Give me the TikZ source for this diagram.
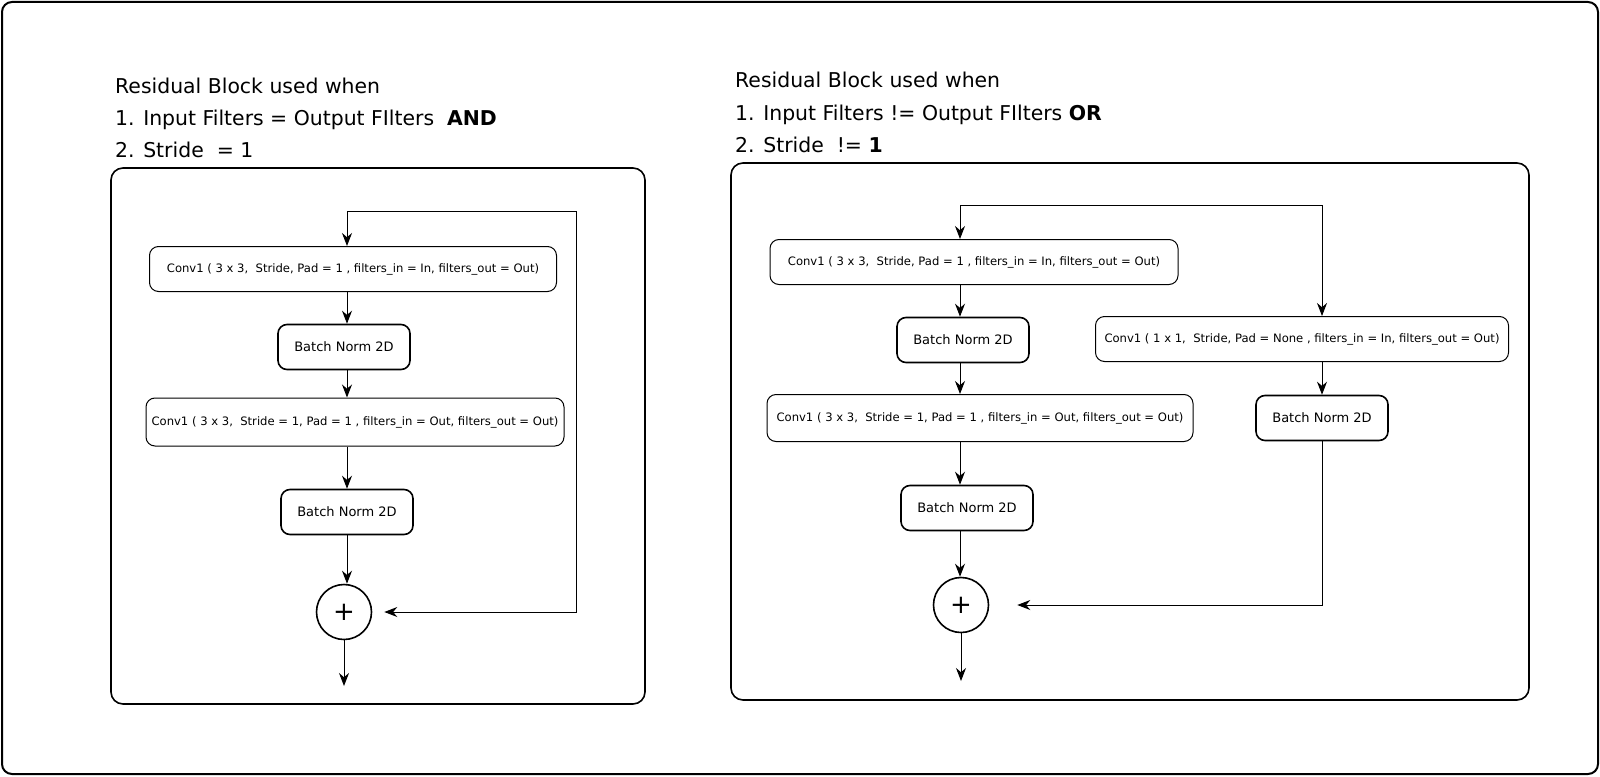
\documentclass[tikz,border=0pt]{standalone}
\usepackage{fontspec}
\setmainfont{DejaVu Sans}
\usetikzlibrary{shapes.geometric, arrows.meta}
\tikzstyle{frame} = [rectangle, rounded corners=12pt, line width=1.6pt, draw=black]
\tikzstyle{title} = [anchor=base west, inner sep=0pt, font=\fontsize{20.4}{24}\selectfont]
\tikzstyle{conv} = [rectangle, rounded corners=9pt, line width=1pt, draw=black, text centered, inner sep=2pt, minimum height=45pt, font=\fontsize{11.6}{13}\selectfont]
\tikzstyle{bnorm} = [rectangle, rounded corners=9pt, line width=1.6pt, draw=black, text centered, minimum width=132pt, minimum height=45pt, font=\fontsize{13}{15}\selectfont]
\tikzstyle{adder} = [circle, line width=1.6pt, draw=black, minimum size=55pt, inner sep=0pt, font=\fontsize{26}{26}\selectfont]
\tikzstyle{arrow} = [line width=1pt, -{Stealth[length=13pt,width=10pt]}]

\begin{document}
\begin{tikzpicture}[x=1pt, y=-1pt]
        \useasboundingbox (0,0) rectangle (1600,776);
        \draw[rounded corners=10pt, line width=2pt] (2,2) rectangle (1598,774);
        % left block
        \node (tL1) [title] at (115,93) {Residual Block used when};
        \node (tL2) [title] at (115,125.5) {1. Input Filters = Output FIlters \ \textbf{AND}};
        \node (tL3) [title] at (115,157) {2. Stride \ = 1};
        \draw [frame] (111,168) rectangle (645,704);
        \node (c1L) [conv, minimum width=407pt] at (353,269) {Conv1 ( 3 x 3, \ Stride, Pad = 1 , filters\_in = In, filters\_out = Out)};
        \node (bn1L) [bnorm] at (344,347) {Batch Norm 2D};
        \node (c2L) [conv, minimum width=418pt, minimum height=48pt] at (355,422) {Conv1 ( 3 x 3, \ Stride = 1, Pad = 1 , filters\_in = Out, filters\_out = Out)};
        \node (bn2L) [bnorm] at (347,512) {Batch Norm 2D};
        \node (addL) [adder] at (344,612) {+};
        \coordinate (forkL) at (347,211);
        \coordinate (outL) at (344,686);
        \draw [arrow] (forkL) -- (forkL |- c1L.north);
        \draw [arrow] (forkL |- c1L.south) -- (forkL |- bn1L.north);
        \draw [arrow] (forkL |- bn1L.south) -- (forkL |- c2L.north);
        \draw [arrow] (forkL |- c2L.south) -- (forkL |- bn2L.north);
        \draw [arrow] (forkL |- bn2L.south) -- (forkL |- addL.north);
        \draw [arrow] (addL.south) -- (outL);
        \draw [arrow, shorten >=12pt] (forkL) -- (576,211) -- (576,612) -- (addL.east);
        % right block
        \node (tR1) [title] at (735,88) {Residual Block used when};
        \node (tR2) [title] at (735,120.5) {1. Input Filters != Output FIlters \textbf{OR}};
        \node (tR3) [title] at (735,152) {2. Stride \ != \textbf{1}};
        \draw [frame] (731,163) rectangle (1529,700);
        \node (c1R) [conv, minimum width=408pt] at (974,262) {Conv1 ( 3 x 3, \ Stride, Pad = 1 , filters\_in = In, filters\_out = Out)};
        \node (bn1R) [bnorm] at (963,340) {Batch Norm 2D};
        \node (c2R) [conv, minimum width=426pt, minimum height=47pt] at (980,418) {Conv1 ( 3 x 3, \ Stride = 1, Pad = 1 , filters\_in = Out, filters\_out = Out)};
        \node (bn2R) [bnorm] at (967,508) {Batch Norm 2D};
        \node (addR) [adder] at (961,605) {+};
        \node (scR) [conv, minimum width=413pt] at (1302,339) {Conv1 ( 1 x 1, \ Stride, Pad = None , filters\_in = In, filters\_out = Out)};
        \node (scbnR) [bnorm] at (1322,418) {Batch Norm 2D};
        \coordinate (forkR) at (960,205);
        \coordinate (branchR) at (1322,205);
        \coordinate (outR) at (961,681);
        \draw [arrow] (forkR) -- (forkR |- c1R.north);
        \draw [arrow] (forkR |- c1R.south) -- (forkR |- bn1R.north);
        \draw [arrow] (forkR |- bn1R.south) -- (forkR |- c2R.north);
        \draw [arrow] (forkR |- c2R.south) -- (forkR |- bn2R.north);
        \draw [arrow] (forkR |- bn2R.south) -- (forkR |- addR.north);
        \draw [arrow] (addR.south) -- (outR);
        \draw [arrow] (forkR) -- (branchR) -- (branchR |- scR.north);
        \draw [arrow] (branchR |- scR.south) -- (scbnR.north);
        \draw [arrow, shorten >=28pt] (scbnR.south) |- (addR.east);
\end{tikzpicture}
\end{document}
